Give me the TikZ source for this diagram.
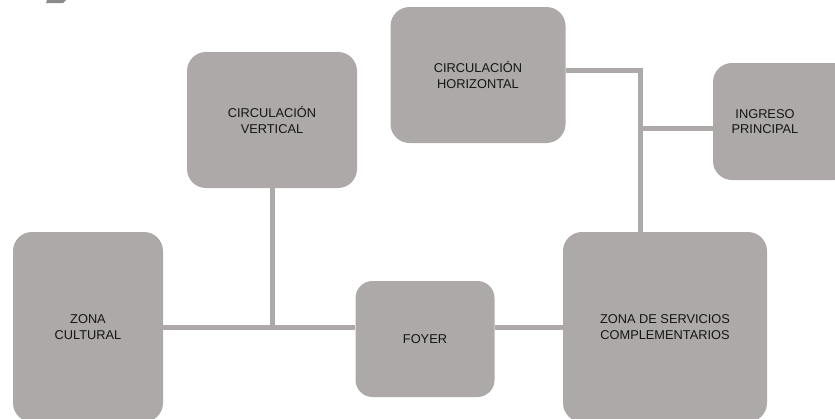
\documentclass[tikz,border=0pt]{standalone}
\usepackage{fontspec}
\setmainfont{Liberation Sans}
\usetikzlibrary{backgrounds}
\definecolor{boxgray}{HTML}{ADA9A8}
\definecolor{markgray}{HTML}{8C8A8A}
\definecolor{txt}{HTML}{151515}
\tikzset{
  zonebox/.style={fill=boxgray, draw=none, rounded corners=19pt, inner sep=0pt,
    text=txt, align=center, font=\fontsize{12.8}{15.8}\selectfont},
  zonelabel/.style={text=txt, align=center, font=\fontsize{12.8}{15.8}\selectfont, inner sep=0pt},
  link/.style={draw=boxgray, line width=5pt, line join=miter}
}
\begin{document}
\begin{tikzpicture}[x=1pt,y=-1pt]
\useasboundingbox (0,0) rectangle (835,418);
% small fragment at top left
\fill[markgray] (47,0) -- (66,0) -- (63,3) -- (46,3) -- cycle;
% boxes
\node[zonebox, minimum width=150pt, minimum height=190pt] (zc) at (88,327) {ZONA\\CULTURAL};
\node[zonebox, minimum width=170pt, minimum height=136pt] (cv) at (272,120) {CIRCULACIÓN\\VERTICAL};
\node[zonebox, minimum width=139pt, minimum height=116pt, rounded corners=17pt] (foyer) at (425,339) {FOYER};
\node[zonebox, minimum width=204pt, minimum height=190pt] (zsc) at (665,327) {ZONA DE SERVICIOS\\COMPLEMENTARIOS};
\node[zonebox, minimum width=175pt, minimum height=136pt] (ch) at (478,75) {CIRCULACIÓN\\HORIZONTAL};
\node[zonebox, minimum width=140pt, minimum height=117pt] (ip) at (783,121.5) {};
\node[zonelabel] (ipt) at (765,121.5) {INGRESO\\PRINCIPAL};
% connectors
\begin{scope}[on background layer]
\coordinate (jt) at (640,70);
\coordinate (jr) at (640,128);
\draw[link] (zc.east) -- (foyer.west |- zc.east);
\draw[link] (foyer.east |- zc.east) -- (zsc.west |- zc.east);
\draw[link] (cv.south) -- (cv.south |- zc.east);
\draw[link] (ch.east |- jt) -- (jt) -- (jt |- zsc.north);
\draw[link] (jr) -- (jr -| ip.west);
\end{scope}
\end{tikzpicture}
\end{document}
